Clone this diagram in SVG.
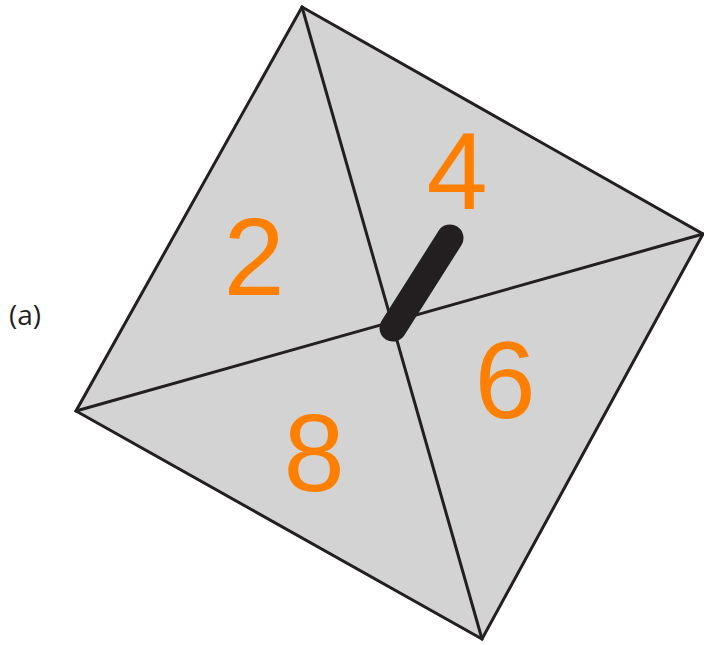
<svg xmlns="http://www.w3.org/2000/svg" width="704" height="645" viewBox="0 0 704 645">
<style>
.edge{stroke:#231f20;stroke-width:3;fill:none;stroke-linecap:round;stroke-linejoin:round}
.num{font-family:"Liberation Sans",Arial,sans-serif;font-size:110px;fill:#ff8000;text-anchor:middle}
.lbl{font-family:"Open Sans","Noto Sans",sans-serif;font-size:28px;fill:#231f20}
</style>
<rect width="704" height="645" fill="#ffffff"/>
<g id="square">
<polygon points="302,7 703,234 482,639 76,411" fill="#d3d3d3" stroke="#231f20" stroke-width="3" stroke-linejoin="miter"/>
</g>
<g id="connectors">
<line class="edge" x1="302" y1="7" x2="482" y2="639"/>
<line class="edge" x1="76" y1="411" x2="703" y2="234"/>
</g>
<g id="spinner">
<line x1="393" y1="328" x2="450" y2="238" stroke="#231f20" stroke-width="27" stroke-linecap="round"/>
</g>
<g id="n2"><text class="num" x="254" y="295">2</text></g>
<g id="n4"><text class="num" x="457" y="209">4</text></g>
<g id="n6"><text class="num" x="505" y="418">6</text></g>
<g id="n8"><text class="num" x="314" y="491">8</text></g>
<g id="label"><text class="lbl" x="9" y="325">(a)</text></g>
</svg>
